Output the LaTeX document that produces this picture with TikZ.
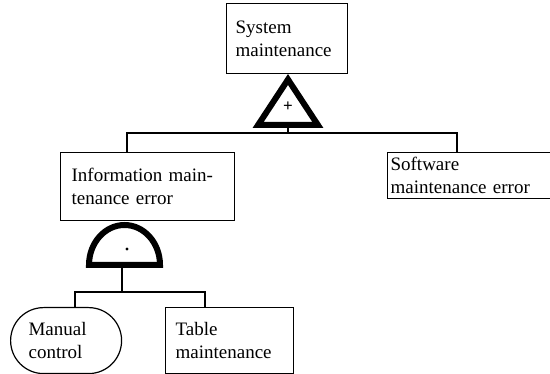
\documentclass[tikz,border=0pt]{standalone}
\usepackage{fontspec}
\setmainfont{Liberation Serif}
\begin{document}
\begin{tikzpicture}[x=1pt, y=-1pt, line width=1.2pt,
  every node/.style={font=\fontsize{19}{23}\selectfont},
  box/.style={draw,anchor=north west,align=left,inner ysep=0pt},
  gate/.style={line width=6pt,line join=miter}]
\useasboundingbox (0,0) rectangle (550,374);
\node[box,minimum width=121pt,minimum height=70pt,text width=103pt,inner xsep=9pt] (sys) at (226,3) {System\\maintenance};
\node[box,minimum width=174pt,minimum height=68pt,text width=152pt,inner xsep=11pt] (info) at (60,152) {Information main-\\tenance error};
\node[box,minimum width=172pt,minimum height=46pt,text width=166pt,inner xsep=2pt] (soft) at (387,152) {Software\\maintenance error};
\node[box,rounded corners=33pt,minimum width=111pt,minimum height=66pt,text width=75pt,inner xsep=18pt] (manual) at (10,307) {Manual\\control};
\node[box,minimum width=128pt,minimum height=66pt,text width=108pt,inner xsep=10pt] (table) at (165,307) {Table\\maintenance};
% OR gate
\draw[gate] (288,79.5) -- (317.9,125) -- (258.1,125) -- cycle;
\node[font=\fontsize{17}{17}\selectfont\bfseries] (orsign) at (288,107) {+};
\coordinate (or-out) at (288,128);
\coordinate (bus) at (288,133);
% AND gate
\draw[gate] (89,265) arc[start angle=180,end angle=0,x radius=35.5pt,y radius=40pt] -- cycle;
\node[circle,fill,inner sep=1.2pt] (anddot) at (127,249) {};
\coordinate (and-out) at (122,268);
\coordinate (and-bus) at (122,292);
% connectors
\draw (or-out) -- (bus);
\draw (bus) -| ([xshift=67pt]info.north west);
\draw (bus) -| ([xshift=70pt]soft.north west);
\draw (and-out) -- (and-bus);
\draw (and-bus) -| ([xshift=65pt]manual.north west);
\draw (and-bus) -| ([xshift=40pt]table.north west);
\end{tikzpicture}
\end{document}
